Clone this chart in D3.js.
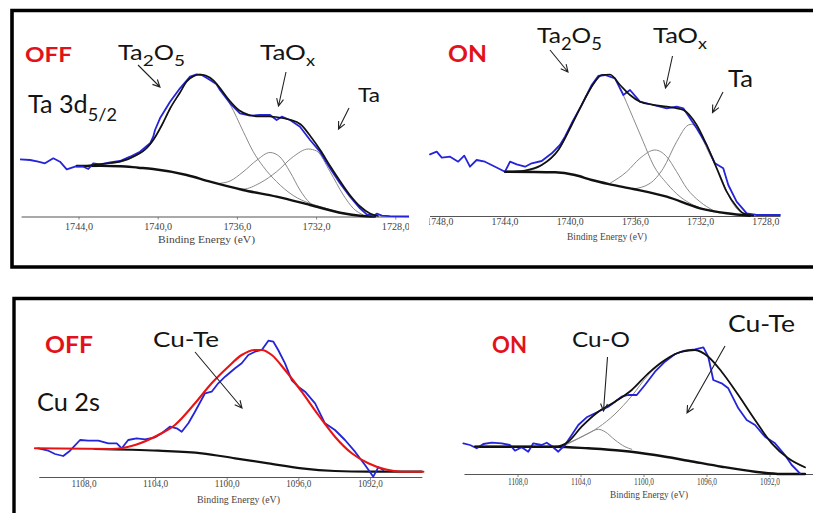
<!DOCTYPE html>
<html><head><meta charset="utf-8">
<script src="https://cdn.jsdelivr.net/npm/d3@7"></script>
<style>html,body{margin:0;padding:0;background:#fff}svg{display:block}</style>
</head><body>
<svg id="c" width="813" height="513"></svg>
<script>
// ---------------- DATA (binding energy eV, intensity a.u.) ----------------
const taTicksOff = [1744, 1740, 1736, 1732, 1728];
const taTicksOn  = [1748, 1744, 1740, 1736, 1732, 1728];
const cuTicks    = [1108, 1104, 1100, 1096, 1092];

// Ta 3d5/2 OFF
const taOffData = [[1746.98,57.2],[1746.47,56.5],[1746.06,54.8],[1745.72,53.2],[1745.30,58.2],[1744.96,54.8],[1744.62,47.2],[1744.20,49.8],[1743.78,49.8],[1743.53,47.5],[1743.28,53.2],[1742.94,52.2],[1742.43,54.2],[1741.93,55.5],[1741.42,59.8],[1740.92,64.8],[1740.41,73.2],[1740.25,79.8],[1740.16,86.5],[1739.91,98.2],[1739.40,114.8],[1738.90,128.2],[1738.39,139.8],[1738.06,142.2],[1737.80,141.5],[1737.38,136.5],[1737.05,132.2],[1736.88,126.5],[1736.37,113.2],[1735.87,103.2],[1735.36,100.8],[1734.86,101.5],[1734.35,101.5],[1734.02,96.5],[1733.76,99.8],[1733.34,96.5],[1732.84,89.8],[1732.33,76.5],[1731.83,64.8],[1731.32,48.2],[1730.82,33.2],[1730.31,19.8],[1729.81,8.2],[1729.47,2.2],[1729.10,1.0],[1728.96,2.8],[1728.70,0.8],[1728.30,0.4],[1727.20,0.2]];
const taOffEnvelope = [[1743.7,50.5],[1743.3,51.5],[1742.4,53.5],[1741.93,54.8],[1741.09,61.5],[1740.6,68],[1740.25,76.5],[1739.8,92],[1739.4,108],[1738.9,124],[1738.56,135],[1738.2,140.5],[1737.89,142],[1737.6,141],[1737.2,136],[1736.9,129],[1736.4,116],[1735.9,106],[1735.4,101.5],[1734.9,100],[1734.4,100],[1733.9,99],[1733.4,97],[1732.8,92],[1732.3,80],[1731.8,66],[1731.3,50],[1730.8,35],[1730.3,21],[1729.8,10],[1729.3,3],[1728.9,0.5]];
const taOffBackground = [[1744.12,50.5],[1742.9,50.6],[1741.93,50.3],[1741.0,48.8],[1740.26,47.5],[1738.56,41.5],[1737.38,34.8],[1735.72,26.5],[1734.02,19.8],[1732.33,11.5],[1730.67,3.2],[1729.81,0.8],[1729.05,0]];
const taOffTa2O5 = [[1743.7,50.5],[1742.4,53],[1741.93,54.5],[1741.09,61],[1740.6,67.5],[1740.25,76],[1739.8,91.5],[1739.4,107.5],[1738.9,123.5],[1738.56,134.5],[1738.2,140],[1737.89,141.5],[1737.6,140.5],[1737.2,135],[1736.9,128],[1736.37,112.2],[1735.70,84.8],[1735.20,64.8],[1734.69,49.8],[1734.02,34.8],[1733.18,21],[1732.33,13],[1731.66,9],[1730.82,4],[1730.0,1.5]];
const taOffTaOx = [[1736.88,33.2],[1736.37,35.5],[1735.72,44.5],[1735.01,56.5],[1734.35,64],[1733.85,59.5],[1733.34,44.5],[1732.84,26.5],[1732.33,13.5],[1731.83,9.5],[1731.07,5]];
const taOffTa = [[1736.54,30.5],[1735.70,27.5],[1734.86,33.5],[1734.02,44.8],[1733.18,59.8],[1732.42,67.5],[1732.00,65.5],[1731.32,44.8],[1730.65,21.5],[1730.15,8.2],[1729.64,1.5]];

// Ta 3d5/2 ON
const taOnData = [[1748.60,61.7],[1748.19,64.3],[1747.88,58.3],[1747.37,59.3],[1746.87,54.3],[1746.50,60.3],[1746.15,49.3],[1745.74,56],[1745.23,54.3],[1744.61,49.3],[1744.00,44.3],[1743.69,54.3],[1743.28,51.7],[1742.77,49.3],[1742.36,52.7],[1741.75,55],[1741.13,62.7],[1740.63,71],[1740.32,79.3],[1739.91,92.7],[1739.29,111],[1738.68,131],[1738.28,140],[1737.87,141],[1737.25,137.7],[1736.74,121],[1736.33,126],[1735.72,114.3],[1734.90,111],[1734.08,107.7],[1733.47,109.3],[1733.06,107.7],[1732.65,97.7],[1732.24,87.7],[1731.63,71],[1731.12,52.7],[1730.61,47.7],[1730.30,31],[1729.79,14.3],[1729.17,2.7],[1728.56,1],[1727.13,1]];
const taOnEnvelope = [[1744.0,44.3],[1743.3,44.6],[1742.77,45.5],[1741.75,51],[1740.73,66],[1739.91,91],[1739.09,117.7],[1738.48,134.3],[1738.07,141],[1737.56,141.5],[1736.94,131],[1736.33,121],[1735.72,114.3],[1734.90,111.2],[1734.08,109.3],[1733.06,106],[1732.24,91],[1731.63,71],[1731.01,47.7],[1730.40,24.3],[1729.79,9.3],[1729.38,2.7],[1728.77,0.3]];
const taOnBackground = [[1744.0,44.3],[1740.93,43.7],[1739.71,41],[1738.68,36],[1737.56,31.7],[1736.13,27],[1734.08,19.3],[1732.04,7.7],[1730.40,2.7],[1728.97,0.3]];
const taOnTa2O5 = [[1744.0,44.3],[1742.77,45],[1741.75,50.5],[1740.73,65.5],[1739.91,90.5],[1739.09,117],[1738.48,133.8],[1738.07,140.5],[1737.56,141],[1737.2,136],[1736.94,127.7],[1736.13,97.7],[1735.52,74.3],[1734.90,51],[1734.08,32.7],[1733.26,19.3],[1732.45,11],[1731.63,6],[1730.8,3]];
const taOnTaOx = [[1737.56,32.7],[1736.53,44.3],[1735.72,57.7],[1734.80,66],[1734.08,59.3],[1733.47,44.3],[1732.85,27.7],[1732.04,14.3],[1731.22,5.5]];
const taOnTa = [[1736.13,27],[1735.10,32.7],[1734.29,47.7],[1733.47,74.3],[1732.75,91],[1732.55,91.7],[1731.42,61],[1730.81,41],[1730.20,17.7],[1729.58,4.3],[1728.97,1]];

// Cu 2s OFF
const cuOffData = [[1110.55,28.7],[1109.99,26.3],[1109.62,23],[1109.16,21],[1108.78,26.3],[1108.22,37],[1107.76,36.3],[1107.20,36.3],[1106.64,33.7],[1106.17,33.7],[1105.89,28.7],[1105.53,37],[1105.06,38.7],[1104.59,37.7],[1104.03,39.7],[1103.66,43.7],[1103.20,50.3],[1102.82,48.7],[1102.54,45.3],[1102.17,53.7],[1101.80,65.3],[1101.24,83.7],[1100.87,85.3],[1100.50,93.7],[1100.12,100.3],[1099.56,108.7],[1099.19,113.7],[1098.82,122],[1098.45,125.3],[1098.07,127],[1097.70,136.3],[1097.42,135.3],[1097.15,127],[1096.77,113.7],[1096.40,97],[1096.03,90.3],[1095.65,85.3],[1095.09,73.7],[1094.54,53.7],[1093.98,47],[1093.42,37],[1092.86,25.3],[1092.30,12],[1091.84,0.3],[1091.56,9.7],[1091.28,7]];
const cuOffFit = [[1110.74,28.7],[1106.45,28],[1105.15,32],[1103.85,42],[1102.92,52],[1101.80,73.7],[1100.87,93.7],[1099.94,110.3],[1099.19,122],[1098.45,127],[1098.07,127],[1097.51,122],[1096.77,107],[1095.84,85.3],[1094.91,62],[1093.98,40.3],[1093.04,23.7],[1092.12,13.7],[1091.18,7.7],[1090.25,5.3],[1089.04,5.3]];
const cuOffBackground = [[1107.39,28],[1103.85,26.3],[1101.42,23.7],[1099.56,18.7],[1097.70,13.7],[1095.84,8.7],[1093.98,6],[1092.12,5.3],[1089.13,5.3]];

// Cu 2s ON
const cuOnData = [[1111.47,30.7],[1111.05,29],[1110.62,25.7],[1110.20,30],[1109.67,31.3],[1109.03,30.7],[1108.51,29],[1108.19,23.3],[1107.77,26.7],[1107.35,22.3],[1107.03,30.7],[1106.50,29],[1106.18,31.3],[1105.86,28],[1105.44,22.3],[1105.02,29],[1104.59,39],[1104.17,49],[1103.64,56.7],[1103.11,60.7],[1102.69,64],[1102.27,67.3],[1101.84,72.3],[1101.42,77.3],[1101.00,79],[1100.46,79],[1099.94,89],[1099.30,102.3],[1098.67,112.3],[1098.03,120],[1097.40,123.3],[1096.76,124.7],[1096.23,126.7],[1095.92,117.3],[1095.60,94],[1095.07,90.7],[1094.65,85.7],[1094.01,65.7],[1093.48,54],[1092.95,49],[1092.32,37.3],[1091.68,30.7],[1091.05,19],[1090.62,9],[1090.10,0.7]];
const cuOnEnvelope = [[1110.73,27.3],[1105.65,27.3],[1104.81,32.3],[1103.96,47.3],[1102.90,62.3],[1101.84,72.3],[1100.78,84],[1099.73,100.7],[1098.67,114],[1097.61,122.3],[1096.76,124],[1095.92,117.3],[1095.07,102.3],[1094.01,79],[1092.95,54],[1091.89,30.7],[1090.84,15.7],[1089.78,6.7]];
const cuOnBackground = [[1110.73,27.3],[1105.65,27.3],[1103.54,25.7],[1101.42,23.3],[1099.30,19],[1097.19,13.3],[1095.07,7.3],[1092.95,2.3],[1091.26,0],[1089.78,0]];
const cuOnCuO = [[1105.23,28],[1104.17,35.7],[1103.54,40.7],[1102.90,44.7],[1102.48,42.3],[1101.84,34],[1101.21,27.3],[1100.78,24.7]];
const cuOnCuTe = [[1105.23,27.3],[1103.96,37],[1102.90,46.5],[1101.84,60],[1100.78,78],[1099.73,99],[1098.67,113.5],[1097.61,122],[1096.76,123.8],[1095.92,117],[1095.07,102],[1094.01,78.8],[1092.95,53.8],[1091.89,30.5],[1090.84,15.5],[1089.78,6.5]];

// ---------------- LAYOUT ----------------
const svg = d3.select('#c');
const fmt = d3.formatLocale({decimal: ',', thousands: '', grouping: [3], currency: ['', '']}).format('.1f');

const panels = [
  {id:'p1', clip:[20,14,389,250], dom:[1744,1728], rng:[79,395.8], axisY:216.5, axisExt:[1746.9,1727.1], ticks:taTicksOff,
   tickY:230, tickW:28, titleX:206.5, titleY:242.5, titleW:97,
   series:[{d:taOffTa2O5,c:'#8a8a8a',w:1},{d:taOffTaOx,c:'#8a8a8a',w:1},{d:taOffTa,c:'#8a8a8a',w:1},
           {d:taOffBackground,c:'#111',w:2.4},{d:taOffData,c:'#2424d8',w:1.8,raw:true},{d:taOffEnvelope,c:'#111',w:1.7}]},
  {id:'p2', clip:[429,14,384,250], dom:[1744,1728], rng:[505,765.8], axisY:216, axisExt:[1748.6,1727.1], ticks:taTicksOn,
   tickY:225, tickW:27, titleX:607, titleY:239.5, titleW:80,
   series:[{d:taOnTa2O5,c:'#8a8a8a',w:1},{d:taOnTaOx,c:'#8a8a8a',w:1},{d:taOnTa,c:'#8a8a8a',w:1},
           {d:taOnBackground,c:'#111',w:2.4},{d:taOnData,c:'#2424d8',w:1.8,raw:true},{d:taOnEnvelope,c:'#111',w:1.7}]},
  {id:'p3', clip:[30,302,400,211], dom:[1108,1092], rng:[84,370.4], axisY:477, axisExt:[1110.5,1089.1], ticks:cuTicks,
   tickY:487, tickW:25, titleX:238.5, titleY:503, titleW:83,
   series:[{d:cuOffBackground,c:'#111',w:2.2},{d:cuOffData,c:'#2424d8',w:1.8,raw:true},{d:cuOffFit,c:'#e81414',w:2.1}]},
  {id:'p4', clip:[455,302,358,211], dom:[1108,1092], rng:[518,770], axisY:474, axisExt:[1111.4,1089.2], ticks:cuTicks,
   tickY:485, tickW:20, titleX:649, titleY:498, titleW:78,
   series:[{d:cuOnCuO,c:'#8a8a8a',w:1},{d:cuOnCuTe,c:'#8a8a8a',w:1},
           {d:cuOnBackground,c:'#111',w:2.4},{d:cuOnData,c:'#2424d8',w:1.8,raw:true},{d:cuOnEnvelope,c:'#111',w:1.8}]}
];

const defs = svg.append('defs');
panels.forEach(p => {
  defs.append('clipPath').attr('id', 'clip-' + p.id)
    .append('rect').attr('x', p.clip[0]).attr('y', p.clip[1]).attr('width', p.clip[2]).attr('height', p.clip[3]);
  const g = svg.append('g').attr('clip-path', `url(#clip-${p.id})`);
  const x = d3.scaleLinear().domain(p.dom).range(p.rng);
  const y = d3.scaleLinear().domain([0, 150]).range([p.axisY, p.axisY - 150]);

  g.append('line').attr('x1', x(p.axisExt[0])).attr('x2', x(p.axisExt[1]))
    .attr('y1', p.axisY + 0.5).attr('y2', p.axisY + 0.5).attr('stroke', '#555').attr('stroke-width', 1.2);
  const tg = g.append('g');
  p.ticks.forEach(t => {
    tg.append('line').attr('x1', x(t)).attr('x2', x(t)).attr('y1', p.axisY + 0.5).attr('y2', p.axisY + 3)
      .attr('stroke', '#666').attr('stroke-width', 0.8);
    tg.append('text').attr('x', x(t)).attr('y', p.tickY).attr('text-anchor', 'middle')
      .attr('font-family', '"Liberation Serif", "DejaVu Serif", serif').attr('font-size', 9.5)
      .attr('fill', '#444').attr('textLength', p.tickW).attr('lengthAdjust', 'spacingAndGlyphs')
      .text(fmt(t));
  });
  g.append('text').attr('x', p.titleX).attr('y', p.titleY).attr('text-anchor', 'middle')
    .attr('font-family', '"Liberation Serif", "DejaVu Serif", serif').attr('font-size', 9.5)
    .attr('fill', '#4a3f3f').attr('textLength', p.titleW).attr('lengthAdjust', 'spacingAndGlyphs')
    .text('Binding Energy (eV)');

  p.series.forEach(s => {
    const line = d3.line().x(d => x(d[0])).y(d => y(d[1]))
      .curve(s.raw ? d3.curveLinear : d3.curveMonotoneX);
    g.append('path').attr('d', line(s.d)).attr('fill', 'none').attr('stroke', s.c)
      .attr('stroke-width', s.w).attr('stroke-linejoin', 'round').attr('stroke-linecap', 'round');
  });
});

// frames
svg.append('path').attr('d', 'M 830 10.5 H 12 V 267 H 830').attr('fill', 'none').attr('stroke', '#000').attr('stroke-width', 3.6);
svg.append('path').attr('d', 'M 830 298.5 H 14 V 530').attr('fill', 'none').attr('stroke', '#000').attr('stroke-width', 3.4);

// annotations
const FONT = 'Lato, "Open Sans", "Noto Sans", sans-serif';
function label(parts, x0, base, w, fs, color, weight, subR) {
  const t = svg.append('text').attr('font-family', FONT).attr('font-size', fs)
    .attr('fill', color).attr('font-weight', weight || 400);
  let shifted = false;
  const sr = subR || 0.7;
  parts.forEach(p => {
    const ts = t.append('tspan').text(p[0]);
    if (p[1] && !shifted) { ts.attr('font-size', fs * sr).attr('dy', fs * 0.3); shifted = true; }
    else if (!p[1] && shifted) { ts.attr('dy', -fs * 0.3); shifted = false; }
    else if (p[1]) ts.attr('font-size', fs * sr);
  });
  const len = t.node().getComputedTextLength();
  t.attr('transform', `translate(${x0},${base}) scale(${w / len},1)`);
}
function arrow(x1, y1, x2, y2) {
  const a = Math.atan2(y2 - y1, x2 - x1), L = 8, s = 0.45;
  svg.append('path')
    .attr('d', `M${x1},${y1} L${x2},${y2} M${x2 - L * Math.cos(a - s)},${y2 - L * Math.sin(a - s)} L${x2},${y2} L${x2 - L * Math.cos(a + s)},${y2 - L * Math.sin(a + s)}`)
    .attr('fill', 'none').attr('stroke', '#222').attr('stroke-width', 1.1);
}
const RED = '#e3121a', INK = '#141414';
// panel 1
label([['OFF']], 25, 62, 47, 21, RED, 700);
label([['Ta'], ['2', 1], ['O'], ['5', 1]], 118, 60, 67, 21, INK, 400, 0.75);
label([['TaO'], ['x', 1]], 260, 60, 55, 21, INK, 400);
label([['Ta']], 358, 102, 22, 19, INK, 400);
label([['Ta 3d'], ['5/2', 1]], 28, 113, 89, 25, INK, 400, 0.72);
arrow(138, 65, 160, 87); arrow(286, 72, 278.5, 106); arrow(349, 108, 338.5, 129);
// panel 2
label([['ON']], 448, 62, 39, 23, RED, 700);
label([['Ta'], ['2', 1], ['O'], ['5', 1]], 537, 43, 65, 22, INK, 400, 0.75);
label([['TaO'], ['x', 1]], 653, 43, 54, 21, INK, 400);
label([['Ta']], 728, 87, 25, 23, INK, 400);
arrow(550, 50, 568, 72); arrow(672.5, 56, 665.5, 88); arrow(723, 92, 712.5, 112.5);
// panel 3
label([['OFF']], 45, 353, 48, 23, RED, 700);
label([['Cu-Te']], 153, 346.5, 66, 20.5, INK, 400);
label([['Cu 2s']], 37, 411, 63, 25, INK, 400);
arrow(195, 352, 242, 408);
// panel 4
label([['ON']], 492, 353, 35, 23, RED, 700);
label([['Cu-O']], 572, 347, 58, 21, INK, 400);
label([['Cu-Te']], 728, 332, 67, 23, INK, 400);
arrow(607.5, 357, 603.5, 411); arrow(725, 346, 687, 413);
</script>
</body></html>
